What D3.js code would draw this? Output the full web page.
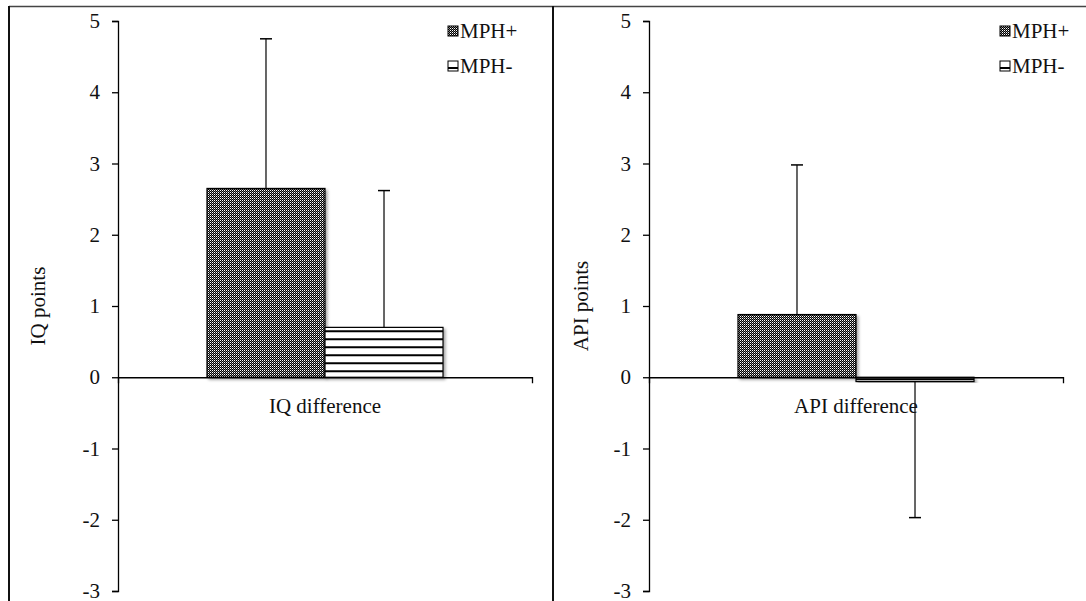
<!DOCTYPE html>
<html>
<head>
<meta charset="utf-8">
<script src="https://cdn.jsdelivr.net/npm/d3@7/dist/d3.min.js"></script>
<style>
  html, body { margin: 0; padding: 0; background: #fff; }
  svg { display: block; }
  text { font-family: "Liberation Serif", "Times New Roman", serif; fill: #111; }
</style>
</head>
<body>
<svg id="chart" width="1086" height="601"></svg>
<script>
// Mean change and one-sided error (SD) for each group
const series = ["MPH+", "MPH-"];
const categories = ["IQ difference", "API difference"];
const axisTitles = ["IQ points", "API points"];
const iqMeans = [2.65, 0.70];
const iqErrors = [2.10, 1.92];
const apiMeans = [0.88, -0.06];
const apiErrors = [2.10, 1.91];
const yTicks = [-3, -2, -1, 0, 1, 2, 3, 4, 5];

const panelsData = [
  { category: categories[0], title: axisTitles[0], means: iqMeans, errors: iqErrors },
  { category: categories[1], title: axisTitles[1], means: apiMeans, errors: apiErrors }
];

// Panel geometry
const layout = [
  { axisX: 118, endX: 532, titleX: 38, legendX: 448 },
  { axisX: 649, endX: 1063, titleX: 581, legendX: 1000 }
];
const yTop = 21, yBottom = 591;
const fontSize = 21;

const svg = d3.select("#chart");
const defs = svg.append("defs");

// Dense checker fill for MPH+
const chk = defs.append("pattern").attr("id", "checker")
  .attr("patternUnits", "userSpaceOnUse").attr("width", 2).attr("height", 2);
chk.append("rect").attr("width", 2).attr("height", 2).attr("fill", "#000");
chk.append("rect").attr("x", 0).attr("y", 0).attr("width", 1).attr("height", 1).attr("fill", "#fff");
chk.append("rect").attr("x", 1).attr("y", 1).attr("width", 1).attr("height", 1).attr("fill", "#777");

// Horizontal stripes for MPH-
const y0 = d3.scaleLinear().domain([-3, 5]).range([yBottom, yTop])(0);
const str = defs.append("pattern").attr("id", "stripes")
  .attr("patternUnits", "userSpaceOnUse").attr("width", 8).attr("height", 8)
  .attr("y", y0);
str.append("rect").attr("width", 8).attr("height", 8).attr("fill", "#fff");
str.append("rect").attr("y", 1).attr("width", 8).attr("height", 2).attr("fill", "#000");

const shadow = defs.append("filter").attr("id", "shadow")
  .attr("x", "-10%").attr("y", "-10%").attr("width", "130%").attr("height", "130%");
shadow.append("feDropShadow").attr("dx", 2).attr("dy", 2)
  .attr("stdDeviation", 1.5).attr("flood-color", "#000").attr("flood-opacity", 0.35);

const fills = { "MPH+": "url(#checker)", "MPH-": "url(#stripes)" };

// Frame lines around the two panels
svg.append("line").attr("x1", 9).attr("x2", 1086).attr("y1", 6.5).attr("y2", 6.5)
  .attr("stroke", "#444").attr("stroke-width", 1.5);
[9, 553].forEach(x => {
  svg.append("line").attr("x1", x).attr("x2", x).attr("y1", 6).attr("y2", 601)
    .attr("stroke", "#111").attr("stroke-width", 2);
});

panelsData.forEach((p, i) => {
  const L = layout[i];
  const g = svg.append("g");

  const y = d3.scaleLinear().domain([-3, 5]).range([yBottom, yTop]);
  const x = d3.scaleBand().domain([p.category]).range([L.axisX, L.endX])
    .paddingInner(0).paddingOuter(0.377);
  const xs = d3.scaleBand().domain(series).range([0, x.bandwidth()]);

  const rows = series.map((s, k) => ({ s, v: p.means[k], e: p.errors[k] }));

  // Bars
  g.selectAll("rect.bar").data(rows).join("rect")
    .attr("class", "bar")
    .attr("x", d => x(p.category) + xs(d.s))
    .attr("y", d => y(Math.max(0, d.v)))
    .attr("width", xs.bandwidth())
    .attr("height", d => Math.abs(y(d.v) - y(0)))
    .attr("fill", d => fills[d.s])
    .attr("stroke", "#000").attr("stroke-width", 1.2)
    .attr("filter", "url(#shadow)");

  // One-sided error bars pointing away from zero
  const cap = 6;
  rows.forEach(d => {
    const cx = x(p.category) + xs(d.s) + xs.bandwidth() / 2;
    const tip = d.v >= 0 ? d.v + d.e : d.v - d.e;
    g.append("line").attr("x1", cx).attr("x2", cx)
      .attr("y1", y(d.v)).attr("y2", y(tip))
      .attr("stroke", "#000").attr("stroke-width", 1.2);
    g.append("line").attr("x1", cx - cap).attr("x2", cx + cap)
      .attr("y1", y(tip)).attr("y2", y(tip))
      .attr("stroke", "#000").attr("stroke-width", 1.5);
  });

  // Y axis
  const yAxis = g.append("g").attr("transform", `translate(${L.axisX},0)`)
    .call(d3.axisLeft(y).tickValues(yTicks).tickSize(6).tickPadding(12).tickFormat(d => String(d)));
  yAxis.selectAll("path, line").attr("stroke", "#000").attr("stroke-width", 1.3);
  yAxis.selectAll("text").attr("font-size", fontSize)
    .style("font-family", "'Liberation Serif', serif").attr("fill", "#111");

  // X axis along zero
  const xAxis = g.append("g").attr("transform", `translate(0,${y(0)})`)
    .call(d3.axisBottom(x).tickSizeInner(0).tickSizeOuter(6).tickPadding(21));
  xAxis.selectAll("path, line").attr("stroke", "#000").attr("stroke-width", 1.3);
  xAxis.selectAll("text").attr("font-size", fontSize)
    .style("font-family", "'Liberation Serif', serif").attr("fill", "#111");

  // Axis title
  g.append("text")
    .attr("transform", `translate(${L.titleX},${(yTop + yBottom) / 2}) rotate(-90)`)
    .attr("text-anchor", "middle").attr("dominant-baseline", "central")
    .attr("font-size", fontSize).text(p.title);

  // Legend
  const leg = g.append("g").attr("transform", `translate(${L.legendX},0)`);
  series.forEach((s, k) => {
    const ly = 31 + k * 35;
    leg.append("rect").attr("x", 0).attr("y", ly - 5).attr("width", 10).attr("height", 10)
      .attr("fill", s === "MPH+" ? "url(#checker)" : "#fff")
      .attr("stroke", "#000").attr("stroke-width", 1);
    if (s === "MPH-") {
      leg.append("rect").attr("x", 0).attr("y", ly + 1).attr("width", 10).attr("height", 2)
        .attr("fill", "#000");
    }
    leg.append("text").attr("x", 12).attr("y", ly).attr("dominant-baseline", "central")
      .attr("font-size", fontSize).text(s);
  });
});
</script>
</body>
</html>
